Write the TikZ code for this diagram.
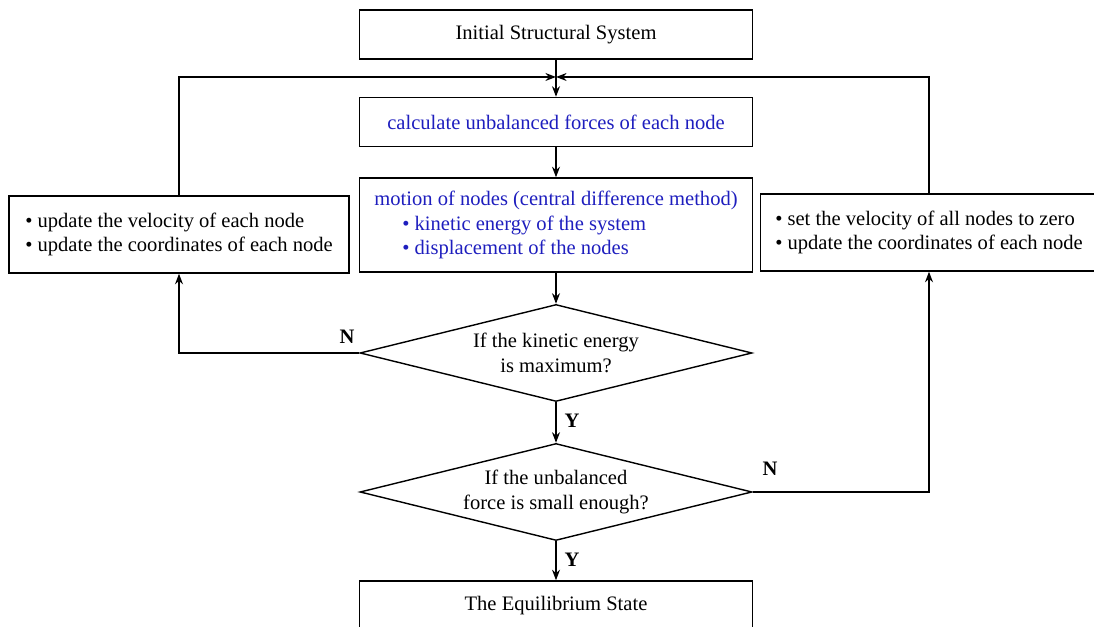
\documentclass[tikz,border=0pt]{standalone}
\usepackage{fontspec}
\setmainfont{Liberation Serif}
\usetikzlibrary{shapes.geometric,arrows.meta}
\definecolor{stepblue}{RGB}{30,30,190}

\begin{document}
\begin{tikzpicture}[
  font=\fontsize{11.7}{14}\selectfont,
  box/.style={draw,line width=0.8pt,minimum width=7.86cm,minimum height=0.98cm,inner sep=2pt},
  sidebox/.style={draw,line width=0.8pt,minimum height=1.54cm,align=left,inner xsep=0.3cm},
  decision/.style={draw,diamond,line width=0.8pt,aspect=4.04,inner sep=0pt,
    minimum width=7.84cm,minimum height=1.94cm,align=center},
  flow/.style={line width=1.1pt,-{Stealth[length=6pt,width=4.5pt]}},
  yn/.style={font=\fontsize{11.7}{14}\selectfont\bfseries}
]
\useasboundingbox (0,0) rectangle (21.88,12.54);

% main column
\node[box] (init) at (11.12,11.85) {Initial Structural System};
\node[box,text=stepblue] (force) at (11.12,10.10) {calculate unbalanced forces of each node};
\node[box,minimum height=1.88cm,align=left,text=stepblue] (motion) at (11.12,8.04)
  {motion of nodes (central difference method)\\
   \hspace*{0.56cm}\textbullet{} kinetic energy of the system\\
   \hspace*{0.56cm}\textbullet{} displacement of the nodes};
\node[decision] (kinetic) at (11.12,5.48) {If the kinetic energy\\is maximum?};
\node[decision] (balance) at (11.12,2.70) {If the unbalanced\\force is small enough?};
\node[box] (equil) at (11.12,0.43) {The Equilibrium State};

% side boxes
\node[sidebox,minimum width=6.8cm] (update) at (3.58,7.85)
  {\textbullet{} update the velocity of each node\\
   \textbullet{} update the coordinates of each node};
\node[sidebox,minimum width=6.56cm] (reset) at (18.58,7.89)
  {\textbullet{} set the velocity of all nodes to zero\\
   \textbullet{} update the coordinates of each node};

\coordinate (merge) at (11.12,11.00);

% connectors
\draw[flow] (init) -- (force);
\draw[flow] (force) -- (motion);
\draw[flow] (motion) -- (kinetic);
\draw[flow] (kinetic) -- (balance);
\draw[flow] (balance) -- (equil);
\draw[flow] (kinetic.west) -| (update.south);
\draw[flow] (balance.east) -| (reset.south);
\draw[flow] (update.north) |- (merge);
\draw[flow] (reset.north) |- (merge);

% labels
\node[yn] (nleft) at (6.94,5.80) {N};
\node[yn] (nright) at (15.40,3.16) {N};
\node[yn] (yup) at (11.44,4.12) {Y};
\node[yn] (ydown) at (11.44,1.34) {Y};
\end{tikzpicture}
\end{document}
